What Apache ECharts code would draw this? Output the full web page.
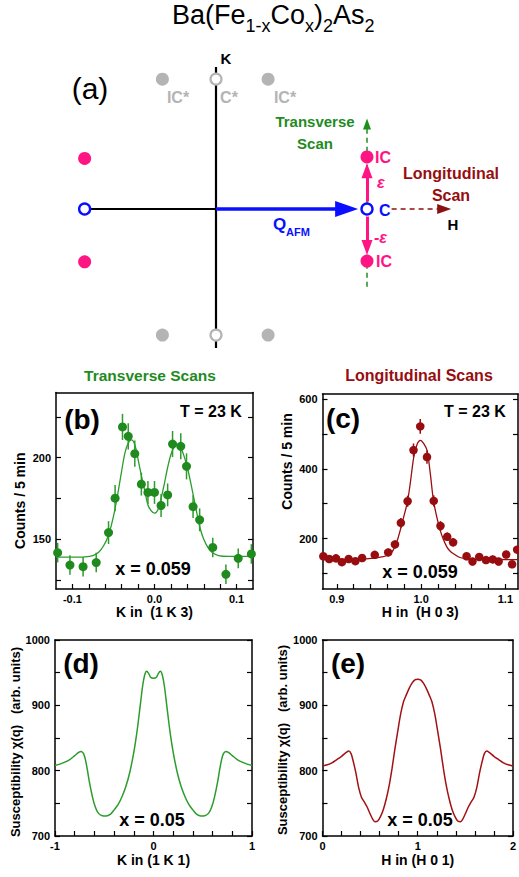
<!DOCTYPE html>
<html>
<head>
<meta charset="utf-8">
<title>Ba(Fe1-xCox)2As2</title>
<script src="https://cdn.jsdelivr.net/npm/echarts@6/dist/echarts.min.js"></script>
<style>
html,body{margin:0;padding:0;background:#fff;}
#chart{width:519px;height:877px;}
</style>
</head>
<body>
<div id="chart"></div>
<script>
// ---------- panel (a): sketch of reciprocal space (H,K in units of Q_AFM) ----------
var kAxisLine = [[0, 0.94], [0, -0.92]];
var hAxisLine = [[-0.87, 0], [0, 0]];
var qAfmArrow = [[0, 0], [0.865, 0]];
var epsArrowUp = [[1, 0.05], [1, 0.254]];
var epsArrowDown = [[1, -0.05], [1, -0.255]];
var transScanLine = [[1, -0.515], [1, 0.563]];
var longScanLine = [[1.163, 0], [1.511, 0]];
var icPoints = [[1, 0.345], [1, -0.345], [-0.87, 0.335], [-0.87, -0.35]];
var cPoints = [[1, 0], [-0.87, 0]];
var icStarPoints = [[-0.355, 0.86], [0.345, 0.86], [-0.355, -0.835], [0.345, -0.835]];
var cStarPoints = [[0, 0.86], [0, -0.835]];

// ---------- panel (b): transverse scan, (1 K 3) ----------
var transK = [-0.118, -0.103, -0.087, -0.071, -0.056, -0.048, -0.039, -0.032, -0.024, -0.016, -0.008, 0.000,
              0.008, 0.016, 0.022, 0.032, 0.039, 0.047, 0.055, 0.071, 0.087, 0.102, 0.118];
var transCounts = [141.8, 134.2, 133.2, 135.7, 154.1, 175.2, 218.9, 213.1, 202.5, 183.8, 178.7, 178.7,
                   170.7, 177.2, 208.4, 207.0, 194.7, 170.0, 161.9, 145.0, 128.5, 138.3, 141.0];
var transErr = [6, 6, 6, 6, 7, 8, 8, 8, 8, 7, 7, 7, 7, 7, 8, 8, 8, 7, 7, 6, 6, 6, 6];
var transFitK = [-0.12, -0.1, -0.085, -0.075, -0.068, -0.062, -0.056, -0.05, -0.045, -0.04, -0.036, -0.032,
                 -0.028, -0.024, -0.02, -0.016, -0.012, -0.008, -0.004, 0, 0.004, 0.008, 0.012, 0.016, 0.02,
                 0.024, 0.028, 0.032, 0.036, 0.04, 0.044, 0.048, 0.052, 0.056, 0.06, 0.065, 0.07, 0.078, 0.09, 0.12];
var transFit = [139, 139, 139.2, 140, 142, 146, 152.5, 164, 177, 192, 203, 209,
                211, 208, 199, 189, 180, 171, 167.5, 166, 168, 175, 184, 194, 202,
                206.5, 208, 206, 201, 194, 185, 175, 165, 156, 150, 145, 142, 140, 139.5, 139.5];

// ---------- panel (c): longitudinal scan, (H 0 3) ----------
var longH = [0.884, 0.891, 0.899, 0.906, 0.914, 0.922, 0.930, 0.945, 0.961, 0.969, 0.976, 0.984, 0.991, 0.999,
             1.007, 1.015, 1.023, 1.031, 1.038, 1.054, 1.061, 1.069, 1.077, 1.085, 1.092, 1.101, 1.108, 1.114];
var longCounts = [149, 141, 143, 132, 141, 135, 144, 153, 160, 183, 245, 307, 454, 522,
                  434, 308, 236, 205, 189, 149, 134, 147, 138, 140, 134, 154, 126, 168];
var longErr = [11, 11, 11, 11, 11, 11, 11, 11, 11, 12, 14, 16, 19, 21,
               19, 16, 14, 12, 12, 11, 11, 11, 11, 11, 11, 11, 11, 11];
var longFitH = [0.883, 0.92, 0.935, 0.945, 0.953, 0.9605, 0.965, 0.9688, 0.9725, 0.9763, 0.98, 0.9838, 0.9875,
                0.9913, 0.9955, 0.9993, 1.003, 1.0071, 1.011, 1.0146, 1.0186, 1.0226, 1.0265, 1.0305, 1.034,
                1.038, 1.046, 1.055, 1.07, 1.115];
var longFit = [139.5, 140, 141.5, 143.5, 147, 152, 160, 176, 200, 233, 268, 305, 365,
               434, 472, 482, 473, 453, 385, 310, 262, 224, 197, 176, 165,
               157, 145.5, 141.5, 140, 139.5];

// ---------- panel (d): calculated chi(q) along (1 K 1) ----------
var chiK = [-1, -0.95, -0.9, -0.85, -0.8, -0.76, -0.735, -0.71, -0.69, -0.67, -0.65, -0.62, -0.59, -0.56, -0.52,
            -0.48, -0.44, -0.4, -0.36, -0.32, -0.28, -0.24, -0.2, -0.17, -0.14, -0.11, -0.09, -0.07, -0.05, -0.03,
            0, 0.03, 0.05, 0.07, 0.09, 0.11, 0.14, 0.17, 0.2, 0.24, 0.28, 0.32, 0.36, 0.4, 0.44, 0.48,
            0.52, 0.56, 0.59, 0.62, 0.65, 0.67, 0.69, 0.71, 0.735, 0.76, 0.8, 0.85, 0.9, 0.95, 1];
var chiKVal = [808, 810, 813, 817, 823, 828, 829.5, 826, 816, 800, 782, 760, 744, 735, 731,
               730.5, 733, 740, 748, 760, 776, 798, 828, 857, 893, 930, 946, 952, 949, 943,
               941.5, 943, 949, 952, 946, 930, 893, 857, 828, 798, 776, 760, 748, 740, 733, 730.5,
               731, 735, 744, 760, 782, 800, 816, 826, 829.5, 828, 823, 817, 813, 810, 808];

// ---------- panel (e): calculated chi(q) along (H 0 1) ----------
var chiH = [0, 0.05, 0.1, 0.15, 0.2, 0.25, 0.275, 0.3, 0.32, 0.35, 0.38, 0.41, 0.44, 0.47, 0.5, 0.53, 0.55,
            0.58, 0.61, 0.64, 0.67, 0.7, 0.73, 0.76, 0.79, 0.82, 0.85, 0.88, 0.91, 0.94, 0.97,
            1, 1.03, 1.06, 1.09, 1.12, 1.15, 1.18, 1.21, 1.24, 1.27, 1.3, 1.33, 1.36, 1.39, 1.42, 1.45,
            1.47, 1.5, 1.53, 1.56, 1.59, 1.62, 1.65, 1.68, 1.7, 1.725, 1.75, 1.8, 1.85, 1.9, 1.95, 2];
var chiHVal = [807, 809, 812, 817, 822, 828, 830, 826, 816, 797, 774, 759, 752, 744, 734, 725, 722,
               723, 730, 741, 757, 777, 803, 833, 860, 886, 905, 916, 926, 934, 939,
               940, 939, 934, 926, 916, 905, 886, 860, 833, 803, 777, 757, 741, 730, 723, 722,
               725, 734, 744, 752, 759, 774, 797, 816, 826, 830, 828, 822, 817, 812, 809, 807];

// ---------- tick positions ----------
var transTicks = [-0.1, -0.08, -0.06, -0.04, -0.02, 0, 0.02, 0.04, 0.06, 0.08, 0.1];
var transLabels = [-0.1, 0, 0.1];
var countTicksB = [125, 150, 175, 200, 225];
var countLabelsB = [150, 200];
var longTicks = [0.9, 0.92, 0.94, 0.96, 0.98, 1.0, 1.02, 1.04, 1.06, 1.08, 1.1];
var longLabels = [0.9, 1.0, 1.1];
var countTicksC = [100, 200, 300, 400, 500, 600];
var countLabelsC = [200, 400, 600];
var kTicks = [-1, -0.8, -0.6, -0.4, -0.2, 0, 0.2, 0.4, 0.6, 0.8, 1];
var kLabels = [-1, 0, 1];
var hTicks = [0, 0.2, 0.4, 0.6, 0.8, 1, 1.2, 1.4, 1.6, 1.8, 2];
var hLabels = [0, 1, 2];
var chiTicks = [700, 750, 800, 850, 900, 950, 1000];
var chiLabels = [700, 800, 900, 1000];

var FONT = '"Liberation Sans", Arial, Helvetica, sans-serif';
var GREEN = '#1f8b1f';
var GREEN_LINE = '#2c9c2c';
var DARKRED = '#970d10';
var PINK = '#ff1483';
var BLUE = '#0a10ff';
var GREY = '#b4b4b4';

var pairs = function(xs, ys){
    return xs.map(function(x, i){ return [x, ys[i]]; });
};

var xBottom = function(grid, min, max, ticks, labels, digits, name, gap){
    return {
        type:'value', gridIndex:grid, position:'bottom', min:min, max:max,
        name:name, nameLocation:'middle', nameGap:gap,
        nameTextStyle:{fontFamily:FONT, fontWeight:'bold', fontSize:14, color:'#000'},
        axisLine:{show:true, onZero:false, lineStyle:{color:'#000', width:1.5}},
        axisTick:{show:true, inside:true, length:5, customValues:ticks, lineStyle:{color:'#000', width:1.2}},
        axisLabel:{show:true, customValues:labels, margin:4, fontFamily:FONT, fontWeight:'bold', fontSize:11, color:'#000',
            formatter:function(v){ return v.toFixed(digits); }},
        splitLine:{show:false}
    };
};
var xTop = function(grid, min, max){
    return {
        type:'value', gridIndex:grid, position:'top', min:min, max:max,
        axisLine:{show:true, onZero:false, lineStyle:{color:'#000', width:1.5}},
        axisTick:{show:false}, axisLabel:{show:false}, splitLine:{show:false}
    };
};
var yLeft = function(grid, min, max, ticks, labels, name, gap, pad){
    return {
        type:'value', gridIndex:grid, position:'left', min:min, max:max,
        name:name, nameLocation:'middle', nameGap:gap,
        nameTextStyle:{fontFamily:FONT, fontWeight:'bold', fontSize:pad.size, color:'#000', padding:pad.p},
        axisLine:{show:true, onZero:false, lineStyle:{color:'#000', width:1.5}},
        axisTick:{show:true, inside:true, length:5, customValues:ticks, lineStyle:{color:'#000', width:1.2}},
        axisLabel:{show:true, customValues:labels, margin:5, fontFamily:FONT, fontWeight:'bold', fontSize:11, color:'#000',
            formatter:function(v){ return String(Math.round(v)); }},
        splitLine:{show:false}
    };
};
var yRight = function(grid, min, max, ticks){
    return {
        type:'value', gridIndex:grid, position:'right', min:min, max:max,
        axisLine:{show:true, onZero:false, lineStyle:{color:'#000', width:1.5}},
        axisTick:{show:true, inside:true, length:5, customValues:ticks, lineStyle:{color:'#000', width:1.2}},
        axisLabel:{show:false}, splitLine:{show:false}
    };
};

var errorBars = function(axis, xs, ys, es, color){
    return {
        type:'custom', xAxisIndex:axis, yAxisIndex:axis, z:2, silent:true,
        data: xs.map(function(x, i){ return [x, ys[i] - es[i], ys[i] + es[i]]; }),
        renderItem:function(params, api){
            var lo = api.coord([api.value(0), api.value(1)]);
            var hi = api.coord([api.value(0), api.value(2)]);
            return {type:'line', shape:{x1:lo[0], y1:lo[1], x2:hi[0], y2:hi[1]},
                    style:{stroke:color, lineWidth:1.5}};
        }
    };
};

var sketchLine = function(coords, color, width, dash, headSize){
    return {
        type:'lines', coordinateSystem:'cartesian2d', xAxisIndex:0, yAxisIndex:0, z:1, silent:true,
        symbol: headSize ? ['none', 'triangle'] : ['none', 'none'],
        symbolSize: headSize ? [1, headSize] : 1,
        lineStyle:{color:color, width:width, type:dash || 'solid', opacity:1, curveness:0},
        data:[{coords:coords}]
    };
};

var txt = function(x, y, text, size, color, weight, align, style){
    return {type:'text', x:x, y:y, silent:true,
        style:{text:text, fontFamily:FONT, fontSize:size, fontWeight:weight || 'normal', fontStyle:style || 'normal',
               fill:color || '#000', align:align || 'center', verticalAlign:'middle'}};
};

var chart = echarts.init(document.getElementById('chart'), null, {renderer:'svg'});

var option = {
    animation:false,
    backgroundColor:'#fff',
    title:{
        text:'{n|Ba(Fe}{s|1-x}{n|Co}{s|x}{n|)}{s|2}{n|As}{s|2}',
        left:172, top:1, padding:0,
        textStyle:{
            fontWeight:'normal', fontFamily:FONT, fontSize:27,
            rich:{
                n:{fontFamily:FONT, fontWeight:'normal', fontSize:27, verticalAlign:'top', color:'#000'},
                s:{fontFamily:FONT, fontWeight:'normal', fontSize:18, padding:[16, 0, 0, 0], verticalAlign:'top', color:'#000'}
            }
        }
    },
    graphic:[
        // panel (a) annotations
        txt(90, 88, '(a)', 30, '#000'),
        txt(226, 58, 'K', 15, '#000', 'bold'),
        txt(178, 97, 'IC*', 16, GREY, 'bold'),
        txt(229, 97, 'C*', 16, GREY, 'bold'),
        txt(285, 97, 'IC*', 16, GREY, 'bold'),
        txt(315, 121, 'Transverse', 15, GREEN, 'bold'),
        txt(315, 143.5, 'Scan', 15, GREEN, 'bold'),
        txt(451, 173, 'Longitudinal', 16, DARKRED, 'bold'),
        txt(451, 195, 'Scan', 16, DARKRED, 'bold'),
        txt(375, 157, 'IC', 16, PINK, 'bold', 'left'),
        txt(377, 182, '\u03b5', 16, PINK, 'bold', 'left', 'italic'),
        txt(379, 210, 'C', 16, BLUE, 'bold', 'left'),
        txt(374, 237, '-\u03b5', 16, PINK, 'bold', 'left', 'italic'),
        txt(376, 261, 'IC', 16, PINK, 'bold', 'left'),
        txt(453, 224, 'H', 15, '#000', 'bold'),
        txt(279.5, 224, 'Q', 17, BLUE, 'bold'),
        txt(298, 232, 'AFM', 11, BLUE, 'bold'),
        // panel titles
        txt(150, 375, 'Transverse Scans', 15.5, GREEN, 'bold'),
        txt(419, 375, 'Longitudinal Scans', 16, DARKRED, 'bold'),
        // panel (b)
        txt(82, 419, '(b)', 28, '#000', 'bold'),
        txt(211, 411, 'T = 23 K', 16, '#000', 'bold'),
        txt(153, 569, 'x = 0.059', 18, '#000', 'bold'),
        // panel (c)
        txt(343, 418, '(c)', 28, '#000', 'bold'),
        txt(475, 411, 'T = 23 K', 16, '#000', 'bold'),
        txt(420, 572, 'x = 0.059', 18, '#000', 'bold'),
        // panel (d), (e)
        txt(81, 663, '(d)', 28, '#000', 'bold'),
        txt(152, 820, 'x = 0.05', 18, '#000', 'bold'),
        txt(348, 663, '(e)', 28, '#000', 'bold'),
        txt(420, 820, 'x = 0.05', 18, '#000', 'bold')
    ],
    grid:[
        {left:4.6, top:42.9, width:513.4, height:332.2},
        {left:56, top:392.5, width:197, height:196.5},
        {left:322.5, top:394, width:195.5, height:195},
        {left:55, top:640, width:197, height:196},
        {left:322.5, top:640, width:195.5, height:196}
    ],
    xAxis:[
        {type:'value', gridIndex:0, min:-1.4, max:2.0, show:false},
        xBottom(1, -0.12, 0.12, transTicks, transLabels, 1, 'K in  (1 K 3)', 15),
        xBottom(2, 0.883, 1.115, longTicks, longLabels, 1, 'H in  (H 0 3)', 15),
        xBottom(3, -1, 1, kTicks, kLabels, 0, 'K in (1 K 1)', 17),
        xBottom(4, 0, 2, hTicks, hLabels, 0, 'H in (H 0 1)', 17),
        xTop(1, -0.12, 0.12), xTop(2, 0.883, 1.115), xTop(3, -1, 1), xTop(4, 0, 2)
    ],
    yAxis:[
        {type:'value', gridIndex:0, min:-1.1, max:1.1, show:false},
        yLeft(1, 119.5, 240, countTicksB, countLabelsB, 'Counts / 5 min', 29, {size:14, p:[0, 20, 0, 0]}),
        yLeft(2, 55, 615, countTicksC, countLabelsC, 'Counts / 5 min', 29, {size:14, p:[0, 0, 0, 60]}),
        yLeft(3, 700, 1000, chiTicks, chiLabels, 'Susceptibility \u03c7(q)   (arb. units)', 29, {size:13, p:[0, 8, 0, 0]}),
        yLeft(4, 700, 1000, chiTicks, chiLabels, 'Susceptibility \u03c7(q)   (arb. units)', 33, {size:13, p:[0, 4, 0, 0]}),
        yRight(1, 119.5, 240, countTicksB), yRight(2, 55, 615, countTicksC),
        yRight(3, 700, 1000, chiTicks), yRight(4, 700, 1000, chiTicks)
    ],
    series:[
        // sketch (a)
        sketchLine(transScanLine, '#1c8f1c', 1.5, [5, 4], [8, 11]),
        sketchLine(longScanLine, '#8b1010', 1.5, [5, 4], [10, 14]),
        sketchLine(kAxisLine, '#000', 2.2),
        sketchLine(hAxisLine, '#000', 2.2),
        sketchLine(qAfmArrow, BLUE, 3.5, 'solid', [16, 23]),
        sketchLine(epsArrowUp, PINK, 3, 'solid', [11, 15]),
        sketchLine(epsArrowDown, PINK, 3, 'solid', [11, 15]),
        {type:'scatter', xAxisIndex:0, yAxisIndex:0, z:5, silent:true, symbolSize:13,
         itemStyle:{color:PINK, opacity:1}, data:icPoints},
        {type:'scatter', xAxisIndex:0, yAxisIndex:0, z:5, silent:true, symbolSize:13,
         itemStyle:{color:GREY, opacity:1}, data:icStarPoints},
        {type:'scatter', xAxisIndex:0, yAxisIndex:0, z:5, silent:true, symbolSize:11,
         itemStyle:{color:'#fff', borderColor:GREY, borderWidth:2.2, opacity:1}, data:cStarPoints},
        {type:'scatter', xAxisIndex:0, yAxisIndex:0, z:5, silent:true, symbolSize:11,
         itemStyle:{color:'#fff', borderColor:BLUE, borderWidth:2.4, opacity:1}, data:cPoints},
        // (b)
        errorBars(1, transK, transCounts, transErr, GREEN_LINE),
        {type:'line', xAxisIndex:1, yAxisIndex:1, z:3, silent:true, smooth:0.3, showSymbol:false,
         lineStyle:{color:GREEN_LINE, width:1.3}, data:pairs(transFitK, transFit)},
        {type:'scatter', xAxisIndex:1, yAxisIndex:1, z:4, silent:true, symbolSize:9,
         itemStyle:{color:GREEN, opacity:1}, data:pairs(transK, transCounts)},
        // (c)
        errorBars(2, longH, longCounts, longErr, DARKRED),
        {type:'line', xAxisIndex:2, yAxisIndex:2, z:3, silent:true, smooth:0.3, showSymbol:false,
         lineStyle:{color:DARKRED, width:1.3}, data:pairs(longFitH, longFit)},
        {type:'scatter', xAxisIndex:2, yAxisIndex:2, z:4, silent:true, symbolSize:8.5,
         itemStyle:{color:DARKRED, opacity:1}, data:pairs(longH, longCounts)},
        // (d)
        {type:'line', xAxisIndex:3, yAxisIndex:3, silent:true, smooth:0.3, showSymbol:false,
         lineStyle:{color:GREEN_LINE, width:1.5}, data:pairs(chiK, chiKVal)},
        // (e)
        {type:'line', xAxisIndex:4, yAxisIndex:4, silent:true, smooth:0.3, showSymbol:false,
         lineStyle:{color:'#a01214', width:1.5}, data:pairs(chiH, chiHVal)}
    ]
};
chart.setOption(option);
</script>
</body>
</html>
